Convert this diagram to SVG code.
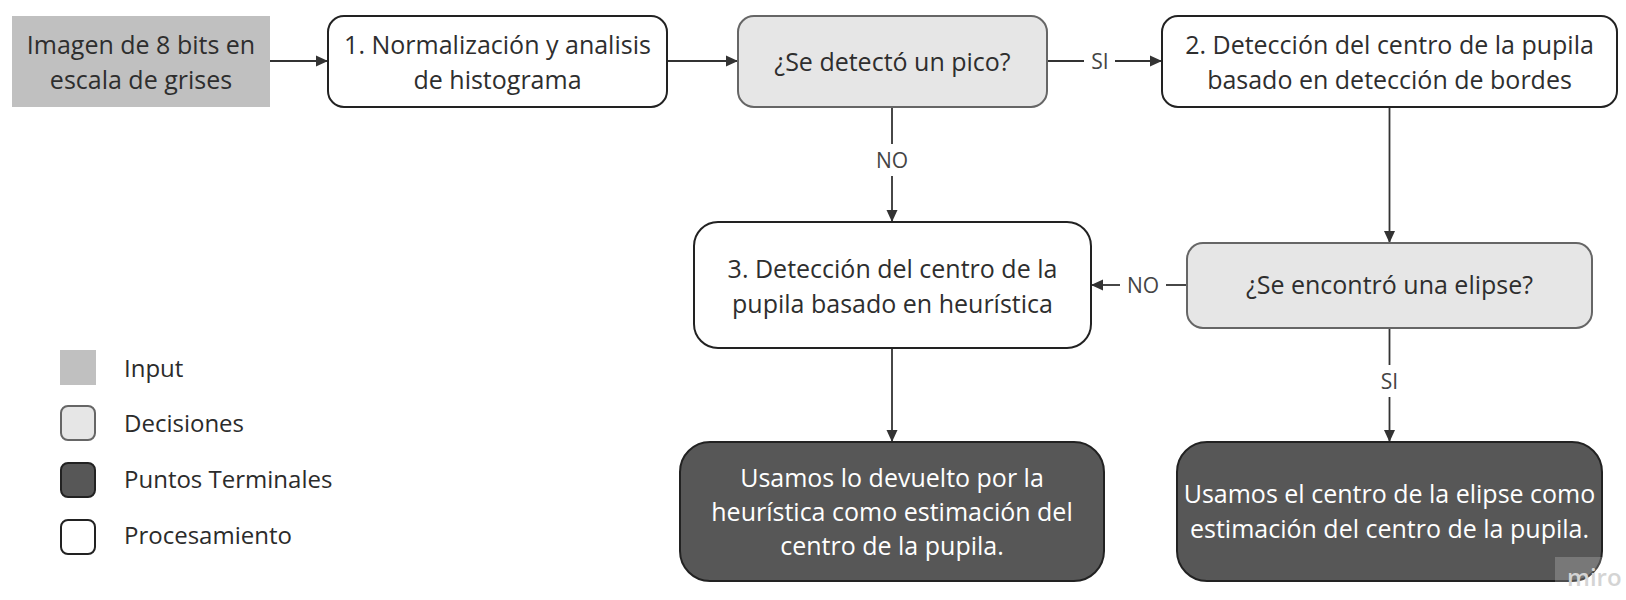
<svg xmlns="http://www.w3.org/2000/svg" width="1626" height="600" viewBox="0 0 1626 600">
<defs>
<marker id="arr" viewBox="0 0 12 12" refX="12" refY="6" markerWidth="12" markerHeight="12" markerUnits="userSpaceOnUse" orient="auto">
<path d="M0,0.5 L12,6 L0,11.5 z" fill="#333"/>
</marker>
<style>
.t{font-family:"Open Sans","Noto Sans","Liberation Sans",sans-serif;font-size:25px;fill:#2e2e2e;text-anchor:middle}
.w{font-family:"Open Sans","Noto Sans","Liberation Sans",sans-serif;font-size:25px;fill:#fff;font-weight:500;text-anchor:middle}
.lg{font-family:"Open Sans","Noto Sans","Liberation Sans",sans-serif;font-size:24px;fill:#2b2b2b}
.lb{font-family:"Open Sans","Noto Sans","Liberation Sans",sans-serif;font-size:21px;fill:#444;text-anchor:middle}
.proc{fill:#fff;stroke:#222;stroke-width:2}
.dec{fill:#e6e6e6;stroke:#666;stroke-width:2}
.term{fill:#575757;stroke:#222;stroke-width:2}
.c{fill:none;stroke:#333;stroke-width:1.8}
</style>
</defs>
<g id="connectors">
<line class="c" x1="270" y1="61" x2="328" y2="61" marker-end="url(#arr)"/>
<line class="c" x1="667" y1="61" x2="738" y2="61" marker-end="url(#arr)"/>
<line class="c" x1="1047" y1="61" x2="1084" y2="61"/>
<line class="c" x1="1115" y1="61" x2="1162" y2="61" marker-end="url(#arr)"/>
<text class="lb" x="1100" y="69">SI</text>
<line class="c" x1="892" y1="107" x2="892" y2="144"/>
<line class="c" x1="892" y1="176" x2="892" y2="222" marker-end="url(#arr)"/>
<text class="lb" x="892" y="168">NO</text>
<line class="c" x1="1389.5" y1="107" x2="1389.5" y2="243" marker-end="url(#arr)"/>
<line class="c" x1="1187" y1="285" x2="1166" y2="285"/>
<line class="c" x1="1120" y1="285" x2="1091" y2="285" marker-end="url(#arr)"/>
<text class="lb" x="1143" y="293">NO</text>
<line class="c" x1="892" y1="348" x2="892" y2="442" marker-end="url(#arr)"/>
<line class="c" x1="1389.5" y1="328" x2="1389.5" y2="365"/>
<line class="c" x1="1389.5" y1="397" x2="1389.5" y2="442" marker-end="url(#arr)"/>
<text class="lb" x="1389.5" y="389">SI</text>
</g>
<g id="input">
<rect x="12" y="16" width="258" height="91" fill="#c0c0c0"/>
<text class="t" x="141" y="54">Imagen de 8 bits en</text>
<text class="t" x="141" y="89">escala de grises</text>
</g>
<g id="normalizacion">
<rect class="proc" x="328" y="16" width="339" height="91" rx="16"/>
<text class="t" x="497.5" y="54">1. Normalización y analisis</text>
<text class="t" x="497.5" y="89">de histograma</text>
</g>
<g id="decision-pico">
<rect class="dec" x="738" y="16" width="309" height="91" rx="16"/>
<text class="t" x="892.5" y="71">¿Se detectó un pico?</text>
</g>
<g id="deteccion-bordes">
<rect class="proc" x="1162" y="16" width="455" height="91" rx="16"/>
<text class="t" x="1389.5" y="54">2. Detección del centro de la pupila</text>
<text class="t" x="1389.5" y="89">basado en detección de bordes</text>
</g>
<g id="deteccion-heuristica">
<rect class="proc" x="694" y="222" width="397" height="126" rx="24"/>
<text class="t" x="892.5" y="278">3. Detección del centro de la</text>
<text class="t" x="892.5" y="313">pupila basado en heurística</text>
</g>
<g id="decision-elipse">
<rect class="dec" x="1187" y="243" width="405" height="85" rx="16"/>
<text class="t" x="1389.5" y="294">¿Se encontró una elipse?</text>
</g>
<g id="terminal-heuristica">
<rect class="term" x="680" y="442" width="424" height="139" rx="30"/>
<text class="w" x="892" y="487">Usamos lo devuelto por la</text>
<text class="w" x="892" y="521">heurística como estimación del</text>
<text class="w" x="892" y="555">centro de la pupila.</text>
</g>
<g id="terminal-elipse">
<rect class="term" x="1177" y="442" width="425" height="139" rx="30"/>
<text class="w" x="1389.5" y="503">Usamos el centro de la elipse como</text>
<text class="w" x="1389.5" y="538">estimación del centro de la pupila.</text>
</g>
<g id="legend">
<rect x="60" y="350" width="36" height="35" fill="#c0c0c0"/>
<text class="lg" x="124" y="377">Input</text>
<rect class="dec" x="61" y="406" width="34" height="34" rx="7"/>
<text class="lg" x="124" y="432">Decisiones</text>
<rect class="term" x="61" y="463" width="34" height="34" rx="7"/>
<text class="lg" x="124" y="488">Puntos Terminales</text>
<rect class="proc" x="61" y="520" width="34" height="34" rx="7"/>
<text class="lg" x="124" y="544">Procesamiento</text>
</g>
<g id="watermark">
<rect x="1555" y="557" width="71" height="43" fill="#fff" fill-opacity="0.2"/>
<text x="1567" y="586" font-family="Open Sans, Noto Sans, sans-serif" font-size="24" font-weight="600" fill="#d4d4d4">miro</text>
</g>
</svg>
